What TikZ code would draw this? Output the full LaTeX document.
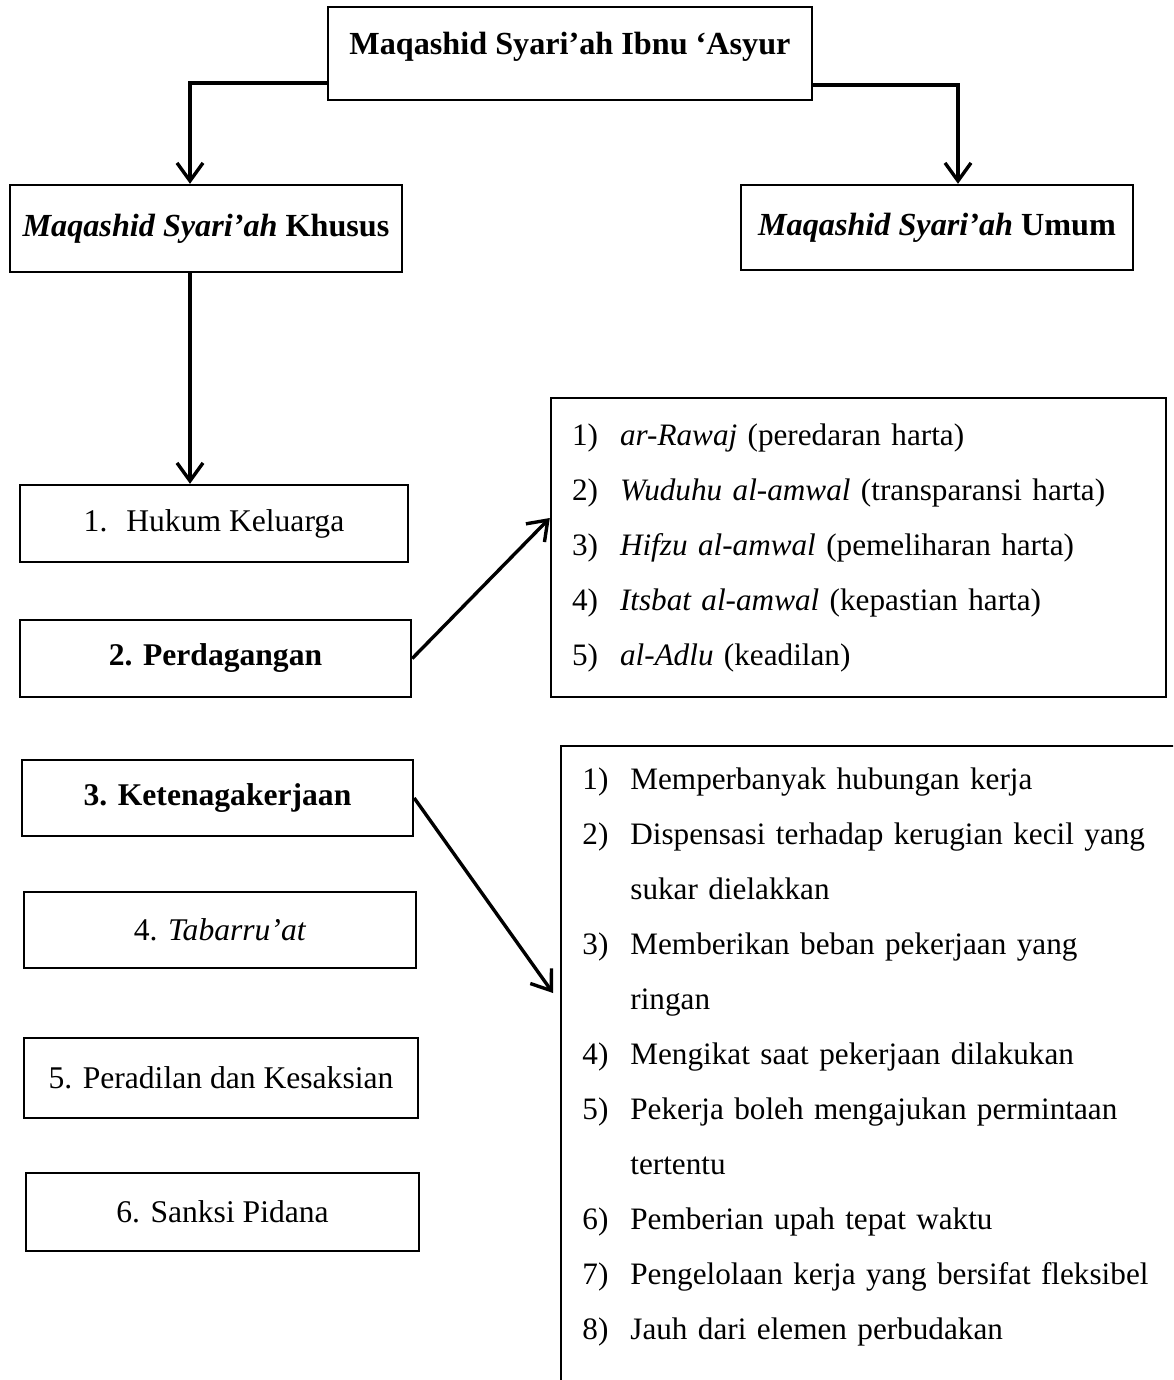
\documentclass[tikz,border=0pt]{standalone}
\usepackage{fontspec}
\setmainfont{Liberation Serif}
\usetikzlibrary{arrows.meta}
\newcommand{\listline}[2]{\noindent\makebox[24pt][l]{#1}#2\par}

\begin{document}
\begin{tikzpicture}[x=0.5pt,y=-0.5pt,
    box/.style={draw, line width=1.2pt, inner sep=0pt, font=\fontsize{15.8}{18}\selectfont},
    headbox/.style={box, font=\fontsize{16.1}{18}\selectfont\bfseries},
    link/.style={line width=1.7pt, -{Straight Barb[length=9pt,width=13pt]}},
    listbox/.style={align=left, inner xsep=10.5pt, font=\fontsize{15.6}{27.5}\selectfont}]
  \clip (0,0) rectangle (1173,1380);
  % top row
  \node[headbox, minimum width=242pt, minimum height=46.5pt, text depth=10pt] (title) at (570,53.5) {Maqashid Syari’ah Ibnu ‘Asyur};
  \node[headbox, minimum width=196pt, minimum height=43.5pt] (khusus) at (206,228.5) {\textit{Maqashid Syari’ah} Khusus};
  \node[headbox, minimum width=196pt, minimum height=42.5pt] (umum) at (937,227.5) {\textit{Maqashid Syari’ah} Umum};
  % left column
  \node[box, minimum width=194pt, minimum height=38.5pt] (hukum) at (214,523.5) {1.\hspace{0.6em}Hukum Keluarga};
  \node[box, minimum width=195.5pt, minimum height=38.5pt] (dagang) at (215.5,658.5) {\textbf{2. Perdagangan}};
  \node[box, minimum width=195.5pt, minimum height=38pt] (kerja) at (217.5,798) {\textbf{3. Ketenagakerjaan}};
  \node[box, minimum width=196pt, minimum height=38pt] (tabarru) at (220,930) {4. \textit{Tabarru’at}};
  \node[box, minimum width=197pt, minimum height=40pt] (peradilan) at (221,1078) {5. Peradilan dan Kesaksian};
  \node[box, minimum width=196.5pt, minimum height=39pt] (sanksi) at (222.5,1212) {6. Sanksi Pidana};
  % right lists
  \node[listbox, draw, line width=1.2pt, text width=286.5pt, minimum width=307.5pt, minimum height=149.5pt] (lst1) at (858.5,547.5) {%
    \listline{1)}{\textit{ar-Rawaj} (peredaran harta)}
    \listline{2)}{\textit{Wuduhu al-amwal} (transparansi harta)}
    \listline{3)}{\textit{Hifzu al-amwal} (pemeliharan harta)}
    \listline{4)}{\textit{Itsbat al-amwal} (kepastian harta)}
    \listline{5)}{\textit{al-Adlu} (keadilan)}};
  \node[listbox, anchor=north west, inner ysep=10.5pt, text width=320pt] (lst2) at (561,746) {%
    \listline{1)}{Memperbanyak hubungan kerja}
    \listline{2)}{Dispensasi terhadap kerugian kecil yang}
    \listline{}{sukar dielakkan}
    \listline{3)}{Memberikan beban pekerjaan yang}
    \listline{}{ringan}
    \listline{4)}{Mengikat saat pekerjaan dilakukan}
    \listline{5)}{Pekerja boleh mengajukan permintaan}
    \listline{}{tertentu}
    \listline{6)}{Pemberian upah tepat waktu}
    \listline{7)}{Pengelolaan kerja yang bersifat fleksibel}
    \listline{8)}{Jauh dari elemen perbudakan}};
  \draw[line width=1.2pt] (lst2.north east) -- (lst2.north west) -- (lst2.north west |- 0,1400);
  % connectors
  \draw[link] ([yshift=9pt]title.south west) -| ([xshift=-8pt]khusus.north);
  \draw[link] ([yshift=8pt]title.south east) -| ([xshift=10.5pt]umum.north);
  \draw[link] ([xshift=-8pt]khusus.south) -- ([xshift=-8pt]khusus.south |- hukum.north);
  \draw[link] (dagang.east) -- ([yshift=14.75pt]lst1.west);
  \draw[link] (kerja.east) -- ([shift={(-4pt,-123.5pt)}]lst2.north west);
\end{tikzpicture}
\end{document}
